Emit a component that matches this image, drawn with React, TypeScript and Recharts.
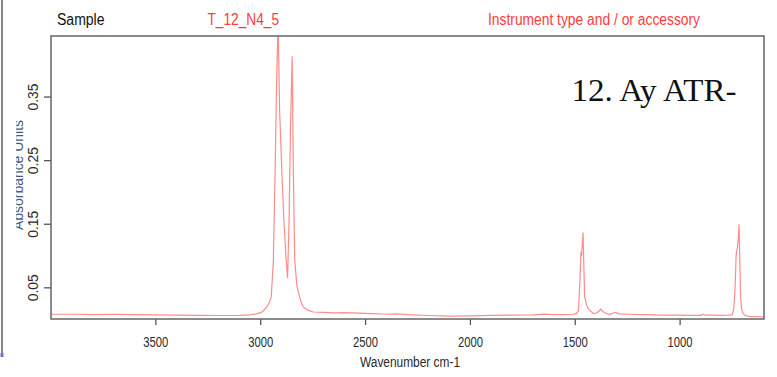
import React from "react";
import { LineChart, Line, XAxis, YAxis } from "recharts";

const wavenumbers = [
  4000, 3900, 3800, 3700, 3600, 3500, 3400, 3300, 3200, 3100, 3050, 3020, 3000, 2990, 2975, 2960, 2950, 2940, 2932, 2924, 2917,
  2910, 2900, 2890, 2880, 2872, 2865, 2858, 2850, 2845, 2838, 2828, 2820, 2808, 2797, 2775, 2750, 2700, 2650, 2600, 2500,
  2400, 2350, 2300, 2200, 2100, 2000, 1900, 1800, 1700, 1650, 1600, 1550, 1510, 1495, 1485, 1478, 1473, 1470, 1466, 1463,
  1458, 1455, 1447, 1439, 1425, 1415, 1400, 1385, 1378, 1370, 1355, 1335, 1311, 1290, 1250, 1200, 1150, 1100, 1050, 1000,
  950, 900, 890, 880, 850, 800, 770, 752, 744, 738, 733, 730, 727, 722, 719, 716, 712, 708, 704, 700, 690, 670, 650, 620, 600,
];
const absorbance = [
  0.0085, 0.0085, 0.008, 0.0082, 0.0078, 0.0075, 0.0072, 0.0068, 0.0065, 0.0068, 0.0075, 0.009, 0.011, 0.013, 0.018, 0.026, 0.035, 0.09, 0.22, 0.377, 0.47,
  0.33, 0.24, 0.16, 0.1, 0.065, 0.15, 0.3, 0.414, 0.25, 0.095, 0.055, 0.042, 0.028, 0.02, 0.015, 0.012, 0.0115, 0.0105, 0.011, 0.01,
  0.0085, 0.009, 0.008, 0.0065, 0.0055, 0.006, 0.0068, 0.007, 0.0075, 0.0088, 0.0078, 0.0078, 0.0085, 0.0095, 0.014, 0.06, 0.107, 0.1, 0.12, 0.137,
  0.07, 0.036, 0.024, 0.0176, 0.013, 0.0097, 0.01, 0.014, 0.0165, 0.013, 0.01, 0.008, 0.0115, 0.009, 0.0085, 0.008, 0.0078, 0.0072, 0.007, 0.007,
  0.0068, 0.0068, 0.0085, 0.007, 0.007, 0.0068, 0.007, 0.0075, 0.0176, 0.05, 0.1, 0.11, 0.112, 0.13, 0.15, 0.1, 0.04, 0.02, 0.013, 0.0097, 0.0065, 0.005, 0.0048, 0.0045, 0.0043,
];
const xTicks = [3500, 3000, 2500, 2000, 1500, 1000];
const yTicks = [0.05, 0.15, 0.25, 0.35];
const yTickLabels = ["0.05", "0.15", "0.25", "0.35"];
const sampleName = "T_12_N4_5";
const headerLeft = "Sample";
const headerRight = "Instrument type and / or accessory";
const noteText = "12. Ay ATR-";
const xTitle = "Wavenumber cm-1";
const yTitle = "Absorbance Units";

const data = wavenumbers.map((wn, i) => ({ wn, a: absorbance[i] }));

const SANS = "Arial, 'Liberation Sans', sans-serif";

const XTick = (props: any) => {
  const { x, payload } = props;
  return (
    <text x={x - 12.5} y={346.5} fontSize={14} fontFamily={SANS} fill="#2a2a2a" textLength={25} lengthAdjust="spacingAndGlyphs">
      {String(payload.value)}
    </text>
  );
};

const YTick = (props: any) => {
  const { y, payload } = props;
  const idx = yTicks.indexOf(payload.value);
  const label = idx >= 0 ? yTickLabels[idx] : String(payload.value);
  return (
    <text transform={`translate(38.3,${y}) rotate(-90)`} x={-13.5} y={0} fontSize={14} fontFamily={SANS} fill="#2a2a2a" textLength={27} lengthAdjust="spacingAndGlyphs">
      {label}
    </text>
  );
};

export default function App() {
  return (
    <div style={{ position: "absolute", left: 0, top: 0, width: 777, height: 377, background: "#fff" }}>
      <div style={{ position: "absolute", left: 0, top: 0 }}>
        <LineChart width={777} height={377} data={data} margin={{ top: 36, right: 13, left: 0, bottom: 0 }}>
          <XAxis
            dataKey="wn"
            type="number"
            domain={[600, 4000]}
            reversed
            ticks={xTicks}
            axisLine={false}
            tickLine={{ stroke: "#555", strokeWidth: 1.3 }}
            tickSize={6}
            height={58}
            tick={<XTick />}
            interval={0}
            allowDataOverflow
          />
          <YAxis
            type="number"
            domain={[0.001, 0.446]}
            ticks={yTicks}
            axisLine={false}
            tickLine={{ stroke: "#555", strokeWidth: 1.3 }}
            tickSize={7}
            width={51}
            tick={<YTick />}
            interval={0}
            allowDataOverflow
          />
          <Line type="linear" dataKey="a" stroke="#ff8c8c" strokeWidth={1.2} dot={false} isAnimationActive={false} />
        </LineChart>
      </div>
      <svg width={777} height={377} style={{ position: "absolute", left: 0, top: 0, pointerEvents: "none" }}>
        <defs>
          <clipPath id="ylabclip">
            <rect x={16.2} y={0} width={60} height={377} />
          </clipPath>
        </defs>
        <line x1={2} y1={0} x2={2} y2={354} stroke="#333" strokeWidth={1.2} />
        <rect x={0.5} y={353} width={3} height={4} fill="#7a6ad8" />
        <rect x={51} y={36} width={713} height={283} fill="none" stroke="#666" strokeWidth={1.5} />
        <text x={57} y={25} fontSize={16} fontFamily={SANS} fill="#111" textLength={47.5} lengthAdjust="spacingAndGlyphs">{headerLeft}</text>
        <text x={207.5} y={25} fontSize={16} fontFamily={SANS} fill="#ff3b3b" textLength={71.5} lengthAdjust="spacingAndGlyphs">{sampleName}</text>
        <text x={488} y={25} fontSize={16} fontFamily={SANS} fill="#ff3b3b" textLength={212} lengthAdjust="spacingAndGlyphs">{headerRight}</text>
        <text x={571.5} y={101} fontSize={32} fontFamily="'Times New Roman', 'Liberation Serif', serif" fill="#111" textLength={165} lengthAdjust="spacingAndGlyphs">{noteText}</text>
        <text x={360} y={367} fontSize={14} fontFamily={SANS} fill="#2a2a2a" textLength={100} lengthAdjust="spacingAndGlyphs">{xTitle}</text>
        <g clipPath="url(#ylabclip)">
          <text transform="translate(23,175) rotate(-90)" x={-55} y={0} fontSize={14} fontFamily={SANS} fill="#4a5878" textLength={110} lengthAdjust="spacingAndGlyphs">{yTitle}</text>
        </g>
      </svg>
    </div>
  );
}
